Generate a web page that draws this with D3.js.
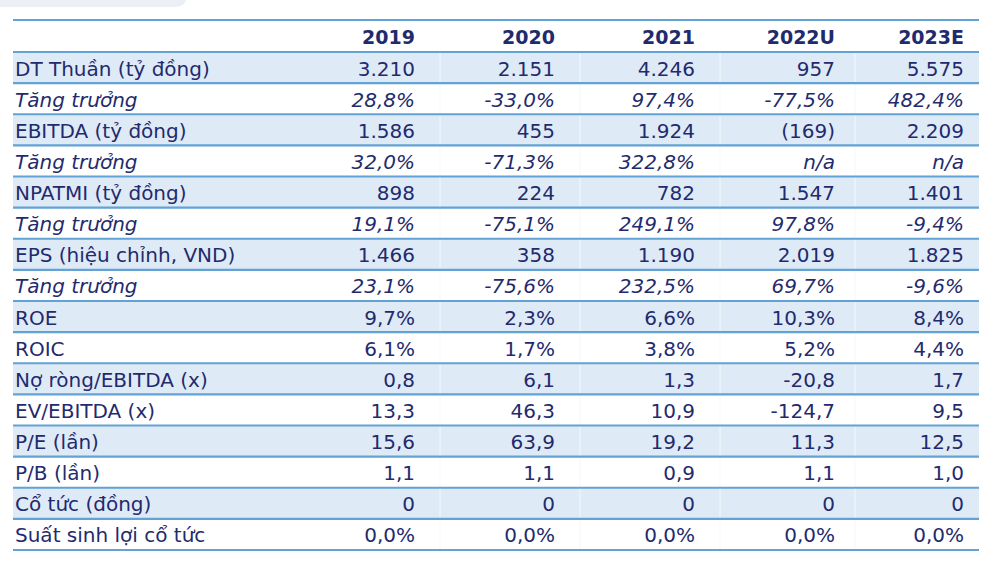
<!DOCTYPE html>
<html><head><meta charset="utf-8">
<script src="https://cdn.jsdelivr.net/npm/d3@7/dist/d3.min.js"></script>
<style>body{margin:0;background:#fff}svg{display:block}</style>
</head><body>
<script>
const years = ["2019","2020","2021","2022U","2023E"];
const rowLabels = ["DT Thuần (tỷ đồng)","Tăng trưởng","EBITDA (tỷ đồng)","Tăng trưởng","NPATMI (tỷ đồng)","Tăng trưởng","EPS (hiệu chỉnh, VND)","Tăng trưởng","ROE","ROIC","Nợ ròng/EBITDA (x)","EV/EBITDA (x)","P/E (lần)","P/B (lần)","Cổ tức (đồng)","Suất sinh lợi cổ tức"];
const italicRows = [1,3,5,7];
const dtThuan = ["3.210","2.151","4.246","957","5.575"];
const dtGrowth = ["28,8%","-33,0%","97,4%","-77,5%","482,4%"];
const ebitda = ["1.586","455","1.924","(169)","2.209"];
const ebitdaGrowth = ["32,0%","-71,3%","322,8%","n/a","n/a"];
const npatmi = ["898","224","782","1.547","1.401"];
const npatmiGrowth = ["19,1%","-75,1%","249,1%","97,8%","-9,4%"];
const eps = ["1.466","358","1.190","2.019","1.825"];
const epsGrowth = ["23,1%","-75,6%","232,5%","69,7%","-9,6%"];
const roe = ["9,7%","2,3%","6,6%","10,3%","8,4%"];
const roic = ["6,1%","1,7%","3,8%","5,2%","4,4%"];
const netDebtEbitda = ["0,8","6,1","1,3","-20,8","1,7"];
const evEbitda = ["13,3","46,3","10,9","-124,7","9,5"];
const pe = ["15,6","63,9","19,2","11,3","12,5"];
const pb = ["1,1","1,1","0,9","1,1","1,0"];
const dividend = ["0","0","0","0","0"];
const divYield = ["0,0%","0,0%","0,0%","0,0%","0,0%"];
const rowValues = [dtThuan,dtGrowth,ebitda,ebitdaGrowth,npatmi,npatmiGrowth,eps,epsGrowth,roe,roic,netDebtEbitda,evEbitda,pe,pb,dividend,divYield];

const W = 1000, H = 569;
const xLeft = 13, xRight = 979, yTop = 20, yHeader = 52, yBottom = 550;
const textColor = "#1f2b6e", shade = "#dfeaf7", lineColor = "#62a2d4";
const font = "DejaVu Sans, Verdana, sans-serif";

const svg = d3.select("body").append("svg").attr("width", W).attr("height", H);

// decorative top-left tab
svg.append("path").attr("d","M0,0 H186 Q184,7 176,7 H0 Z").attr("fill","#eceff4");

const y = d3.scaleBand().domain(d3.range(rowLabels.length)).range([yHeader, yBottom]);
const colRight = d3.scaleOrdinal().domain(years).range([415, 555, 695, 835, 964]);

// shaded rows
svg.selectAll("rect.shade").data(d3.range(rowLabels.length).filter(i => i % 2 === 0))
  .join("rect").attr("class","shade")
  .attr("x", xLeft).attr("width", xRight - xLeft)
  .attr("y", i => y(i)).attr("height", y.bandwidth())
  .attr("fill", shade);

// faint column separators
svg.selectAll("line.vsep").data([440, 580, 720, 855])
  .join("line").attr("class","vsep")
  .attr("x1", d => d).attr("x2", d => d).attr("y1", yHeader).attr("y2", yBottom)
  .attr("stroke", "#f3f7fc").attr("stroke-width", 1);

// horizontal lines
const lineYs = [yTop, yHeader].concat(d3.range(1, rowLabels.length).map(i => y(i)), [yBottom]);
svg.selectAll("line.h").data(lineYs).join("line").attr("class","h")
  .attr("x1", xLeft).attr("x2", xRight).attr("y1", d => d).attr("y2", d => d)
  .attr("stroke", lineColor).attr("stroke-width", 2.2);

// header
svg.selectAll("text.hdr").data(years).join("text").attr("class","hdr")
  .attr("x", d => colRight(d)).attr("y", (yTop + yHeader) / 2 + 1)
  .attr("text-anchor","end").attr("dominant-baseline","central")
  .attr("font-family", font).attr("font-weight","bold").attr("font-size", 19)
  .attr("fill", textColor).text(d => d);

// row labels
svg.selectAll("text.lbl").data(rowLabels).join("text").attr("class","lbl")
  .attr("x", 15).attr("y", (d,i) => y(i) + y.bandwidth()/2 + 1)
  .attr("dominant-baseline","central")
  .attr("font-family", font).attr("font-size", 20)
  .attr("font-style", (d,i) => italicRows.includes(i) ? "italic" : "normal")
  .attr("fill", textColor).text(d => d);

// values
const cells = [];
rowValues.forEach((vals, i) => vals.forEach((v, j) => cells.push({i, year: years[j], v})));
svg.selectAll("text.val").data(cells).join("text").attr("class","val")
  .attr("x", d => colRight(d.year)).attr("y", d => y(d.i) + y.bandwidth()/2 + 1)
  .attr("text-anchor","end").attr("dominant-baseline","central")
  .attr("font-family", font).attr("font-size", 20)
  .attr("font-style", d => italicRows.includes(d.i) ? "italic" : "normal")
  .attr("fill", textColor).text(d => d.v);
</script>
</body></html>
